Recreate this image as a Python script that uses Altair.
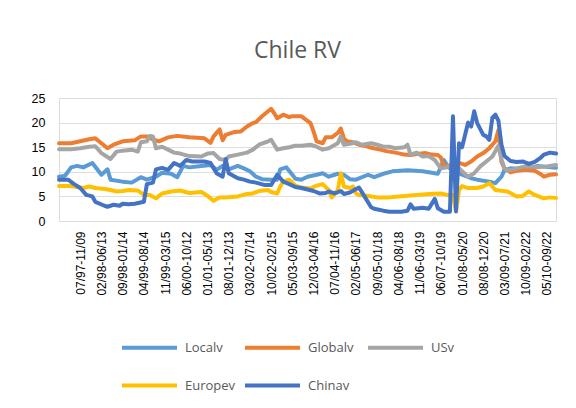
import json
import altair as alt
import pandas as pd

# ---- data ----
x_labels = ["07/97-11/09", "02/98-06/13", "09/98-01/14", "04/99-08/14", "11/99-03/15",
            "06/00-10/12", "01/01-05/13", "08/01-12/13", "03/02-07/14", "10/02-02/15",
            "05/03-09/15", "12/03-04/16", "07/04-11/16", "02/05-06/17", "09/05-01/18",
            "04/06-08/18", "11/06-03/19", "06/07-10/19", "01/08-05/20", "08/08-12/20",
            "03/09-07/21", "10/09-02/22", "05/10-09/22"]
n_categories = 165
label_step = 7
label_first = 7

series_names = ["Localv", "Globalv", "USv", "Europev", "Chinav"]
series_colors = ["#5B9BD5", "#ED7D31", "#A5A5A5", "#FFC000", "#4472C4"]

local_x = [0, 2, 4, 6, 8, 11, 14, 16, 17, 21, 24, 27, 29, 32, 34, 37, 39, 41, 43, 47, 50, 52, 54,
           56, 59, 61, 63, 65, 67, 70, 72, 73, 75, 77, 78, 80, 82, 85, 87, 89, 92, 94, 96, 98,
           102, 104, 107, 110, 115, 120, 125, 127, 128, 129, 133, 136, 138, 142, 144, 146, 147,
           149, 153, 158, 161, 164]
local_y = [9.0, 9.2, 10.9, 11.2, 10.9, 11.8, 9.4, 10.5, 8.4, 8.0, 7.8, 8.9, 8.4, 9.0, 9.8, 9.6,
           8.9, 11.2, 10.9, 11.2, 11.4, 10.4, 11.2, 10.5, 11.2, 10.7, 10.1, 9.0, 8.5, 8.4, 8.4,
           10.5, 10.9, 9.4, 8.6, 8.4, 9.0, 9.4, 9.7, 9.0, 9.6, 9.4, 8.5, 8.4, 9.4, 8.9, 9.6, 10.1,
           10.3, 10.1, 9.6, 12.4, 11.4, 10.7, 9.4, 8.7, 8.4, 8.0, 7.7, 9.0, 10.4, 10.7, 10.5, 11.2,
           11.0, 10.8]

global_x = [0, 4, 7, 10, 12, 14, 16, 18, 21, 25, 27, 29, 31, 33, 36, 39, 43, 48, 50, 51, 52, 53,
            54, 55, 58, 60, 62, 64, 65, 67, 69, 70, 71, 72, 74, 76, 77, 80, 81, 83, 84, 85, 87,
            88, 90, 92, 93, 94, 95, 97, 99, 101, 103, 106, 108, 111, 114, 116, 118, 121, 123,
            125, 126, 127, 129, 131, 132, 134, 136, 138, 140, 142, 144, 145, 146, 147, 149, 151,
            154, 157, 159, 160, 162, 164]
global_y = [15.8, 15.8, 16.2, 16.6, 16.8, 15.8, 14.8, 15.5, 16.2, 16.4, 17.2, 17.2, 16.6, 16.2,
            17.0, 17.3, 17.0, 16.8, 15.9, 17.2, 17.9, 18.6, 16.4, 17.5, 18.1, 18.2, 19.2, 19.9,
            20.1, 21.3, 22.3, 22.8, 21.9, 20.9, 21.6, 21.1, 21.3, 21.3, 20.8, 19.9, 18.2, 16.2,
            15.8, 17.0, 17.0, 17.9, 18.8, 16.8, 16.2, 16.0, 15.5, 15.3, 14.9, 14.5, 14.2, 13.9,
            13.5, 13.4, 13.6, 13.8, 13.5, 13.4, 12.9, 11.2, 11.3, 11.2, 11.8, 11.4, 12.1, 13.1,
            13.8, 14.8, 16.2, 18.5, 12.0, 10.7, 9.9, 10.2, 10.4, 10.2, 9.5, 9.0, 9.4, 9.5]

us_x = [0, 4, 7, 10, 12, 14, 16, 17, 19, 21, 24, 26, 27, 29, 30, 31, 32, 34, 36, 38, 40, 43, 47,
        49, 51, 53, 55, 56, 59, 62, 64, 66, 69, 70, 72, 74, 76, 78, 80, 83, 85, 87, 89, 92, 93,
        94, 96, 98, 100, 103, 105, 107, 109, 111, 114, 115, 116, 118, 120, 122, 124, 126, 128,
        130, 131, 133, 135, 137, 139, 141, 143, 145, 146, 147, 148, 151, 154, 158, 161, 164]
us_y = [14.6, 14.6, 14.8, 15.1, 15.2, 13.8, 13.0, 12.6, 14.1, 14.3, 14.5, 14.1, 16.0, 16.2, 17.3,
        17.2, 14.8, 15.1, 14.5, 13.9, 13.7, 13.2, 13.1, 13.7, 13.8, 12.6, 12.4, 13.1, 13.5, 13.9,
        14.5, 15.5, 16.2, 16.5, 14.5, 14.8, 15.0, 15.3, 15.3, 15.5, 15.1, 14.5, 14.8, 15.8, 17.2,
        15.5, 15.7, 16.0, 15.5, 15.8, 15.5, 15.1, 15.1, 14.8, 15.0, 15.5, 13.5, 13.9, 13.1, 13.2,
        12.4, 10.7, 10.9, 11.5, 11.4, 10.1, 9.0, 9.7, 11.1, 12.1, 13.1, 15.3, 12.5, 10.7, 10.2,
        10.7, 11.1, 11.0, 11.1, 11.4]

europe_x = [0, 4, 6, 8, 10, 12, 15, 17, 19, 21, 23, 26, 28, 30, 32, 34, 37, 40, 43, 47, 49, 51,
            53, 55, 59, 62, 64, 66, 69, 70, 72, 73, 74, 76, 78, 80, 83, 85, 87, 89, 90, 92, 93,
            94, 96, 97, 98, 99, 102, 105, 109, 114, 118, 122, 126, 128, 130, 131, 132, 133, 135,
            138, 140, 142, 144, 148, 151, 153, 155, 157, 160, 162, 164]
europe_y = [7.1, 7.1, 6.9, 6.7, 7.0, 6.7, 6.5, 6.3, 6.0, 6.1, 6.3, 6.2, 5.3, 5.3, 4.6, 5.6, 6.0,
            6.2, 5.7, 5.9, 5.1, 4.1, 4.8, 4.8, 5.0, 5.5, 5.6, 6.1, 6.3, 5.9, 5.6, 7.0, 8.0, 8.4,
            7.2, 6.8, 6.6, 7.2, 7.5, 6.3, 4.8, 6.3, 9.7, 7.0, 6.7, 7.0, 5.6, 5.3, 5.1, 4.8, 4.8,
            5.1, 5.3, 5.5, 5.6, 5.3, 5.3, 1.9, 6.3, 7.1, 6.7, 6.7, 7.0, 7.7, 6.3, 6.0, 5.0, 5.1,
            6.0, 5.3, 4.6, 4.8, 4.7]

china_x = [0, 3, 5, 7, 9, 11, 12, 15, 16, 18, 20, 21, 23, 25, 28, 29, 31, 32, 34, 36, 38, 40, 42,
           44, 48, 50, 52, 54, 55, 56, 59, 61, 63, 65, 68, 70, 72, 74, 76, 78, 80, 82, 84, 86,
           88, 89, 91, 93, 94, 96, 98, 99, 101, 103, 104, 107, 109, 113, 115, 116, 117, 120, 122,
           124, 125, 127, 129, 130, 131, 132, 133, 135, 136, 137, 138, 140, 141, 142, 143, 144,
           145, 146, 147, 149, 151, 153, 155, 157, 159, 160, 162, 164]
china_y = [8.4, 8.4, 7.5, 6.7, 5.3, 5.0, 3.9, 3.1, 2.9, 3.3, 3.1, 3.5, 3.4, 3.5, 3.9, 7.5, 7.8,
           10.5, 10.8, 10.4, 11.8, 11.2, 12.4, 12.1, 12.1, 11.8, 9.7, 9.0, 12.6, 9.7, 8.7, 8.4,
           8.0, 7.8, 7.3, 7.3, 9.4, 8.0, 7.5, 6.9, 6.7, 6.4, 6.1, 5.6, 5.7, 6.0, 5.6, 6.1, 5.5,
           5.8, 6.5, 6.8, 4.8, 2.8, 2.5, 2.1, 1.9, 1.9, 2.1, 3.4, 2.5, 2.7, 2.5, 4.5, 2.6, 1.9,
           1.9, 21.3, 2.0, 15.8, 15.0, 20.0, 19.2, 22.3, 19.9, 17.5, 17.2, 16.5, 21.0, 21.6, 20.4,
           15.5, 13.2, 12.2, 12.0, 12.1, 11.6, 12.0, 12.9, 13.5, 13.9, 13.7]

y_ticks = [0, 5, 10, 15, 20, 25]

# ---- table ----
frames = []
for name, xs, ys in [("Localv", local_x, local_y), ("Globalv", global_x, global_y),
                     ("USv", us_x, us_y), ("Europev", europe_x, europe_y),
                     ("Chinav", china_x, china_y)]:
    frames.append(pd.DataFrame({"idx": xs, "value": ys, "series": name}))
df = pd.concat(frames, ignore_index=True)

tick_values = [label_first + label_step * i for i in range(len(x_labels))]
label_expr = f"{json.dumps(x_labels)}[round((datum.value - {label_first}) / {label_step})]"

font = "Open Sans"
text_color = "#595959"

chart = alt.Chart(df).mark_line(
    strokeWidth=4, strokeCap="round", strokeJoin="round"
).encode(
    x=alt.X("idx:Q",
            scale=alt.Scale(domain=[0, n_categories - 1], nice=False, zero=False),
            axis=alt.Axis(values=tick_values, labelExpr=label_expr, labelAngle=270,
                          grid=False, domain=False, ticks=False, labelPadding=10,
                          labelFontSize=12, title=None, labelOverlap=False)),
    y=alt.Y("value:Q",
            scale=alt.Scale(domain=[0, 25], nice=False),
            axis=alt.Axis(values=y_ticks, grid=True, domain=False, ticks=False,
                          labelPadding=14, labelFontSize=12.5, title=None)),
    color=alt.Color("series:N",
                    scale=alt.Scale(domain=series_names, range=series_colors),
                    sort=series_names,
                    legend=alt.Legend(orient="none", legendX=61, legendY=220,
                                      direction="horizontal", columns=3, title=None,
                                      symbolType="stroke", symbolSize=3025,
                                      symbolStrokeWidth=4, labelFontSize=13,
                                      labelColor=text_color, labelFont=font,
                                      gridAlign="all",
                                      columnPadding=1, rowPadding=-20, labelOffset=6)),
    order=alt.Order("idx:Q"),
).properties(
    width=497,
    height=123,
    title=alt.TitleParams("Chile RV", fontSize=23, font=font, color=text_color,
                          fontWeight="normal", anchor="middle", dx=-10, offset=29),
    autosize=alt.AutoSizeParams(type="none"),
    padding={"left": 51, "top": 90, "right": 12, "bottom": 175},
).configure_view(
    stroke=None
).configure_axis(
    gridColor="#D9D9D9", gridWidth=1, labelColor=text_color, labelFont=font
).configure(background="white")

chart.save("out.html", embed_options={"renderer": "svg", "actions": False})
